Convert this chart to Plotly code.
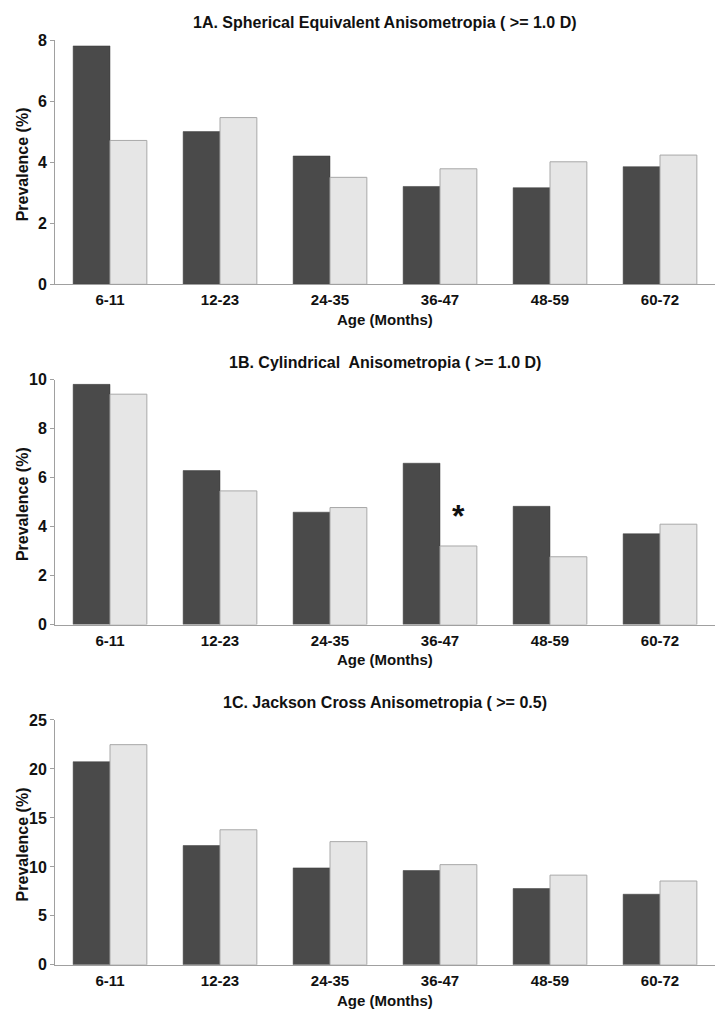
import plotly.graph_objects as go

ages = ["6-11", "12-23", "24-35", "36-47", "48-59", "60-72"]
titles = ["1A. Spherical Equivalent Anisometropia ( >= 1.0 D)",
          "1B. Cylindrical  Anisometropia ( >= 1.0 D)",
          "1C. Jackson Cross Anisometropia ( >= 0.5)"]
sph_dark = [7.82, 5.01, 4.21, 3.21, 3.17, 3.86]
sph_light = [4.72, 5.47, 3.51, 3.79, 4.02, 4.24]
cyl_dark = [9.81, 6.29, 4.59, 6.59, 4.83, 3.71]
cyl_light = [9.41, 5.46, 4.78, 3.21, 2.77, 4.10]
jc_dark = [20.74, 12.18, 9.90, 9.63, 7.79, 7.21]
jc_light = [22.48, 13.79, 12.58, 10.23, 9.16, 8.56]
y_max = [8, 10, 25]
y_dtick = [2, 2, 5]

W, H = 721, 1024
x_left, x_right = 55, 715
panels_px = [(33, 281), (378, 627), (724, 973)]  # top, bottom in px

DARK = "#4a4a4a"
LIGHT = "#e6e6e6"
AX = "#a0a0a0"
SANS = "Liberation Sans, Arial, sans-serif"

fig = go.Figure()
data = [(sph_dark, sph_light), (cyl_dark, cyl_light), (jc_dark, jc_light)]
annotations = []
layout_axes = {}
for i, ((dk, lt), (top, bot)) in enumerate(zip(data, panels_px)):
    n = i + 1
    xa = "x" if n == 1 else f"x{n}"
    ya = "y" if n == 1 else f"y{n}"
    fig.add_trace(go.Bar(x=ages, y=dk, xaxis=xa, yaxis=ya,
                         marker=dict(color=DARK, line=dict(color="#3a3a3a", width=0.5)), showlegend=False))
    fig.add_trace(go.Bar(x=ages, y=lt, xaxis=xa, yaxis=ya,
                         marker=dict(color=LIGHT, line=dict(color="#a8a8a8", width=1)), showlegend=False))
    dom_y = [1 - bot / H, 1 - top / H]
    xkey = "xaxis" if n == 1 else f"xaxis{n}"
    ykey = "yaxis" if n == 1 else f"yaxis{n}"
    layout_axes[xkey] = dict(domain=[x_left / W, x_right / W], anchor=ya, range=[-0.5, 5.5],
                             showline=True, linecolor=AX, linewidth=1, ticks="", showgrid=False,
                             tickfont=dict(family=SANS, size=15, color="#111", weight="bold"),
                             ticklabelstandoff=2, fixedrange=True)
    layout_axes[ykey] = dict(domain=dom_y, anchor=xa, range=[0, y_max[i]], dtick=y_dtick[i],
                             showline=True, linecolor=AX, linewidth=1, ticks="outside", ticklen=4,
                             tickcolor=AX, showgrid=False, zeroline=False,
                             tickfont=dict(family=SANS, size=16, color="#111", weight="bold"))
    annotations.append(dict(text="<b>" + titles[i] + "</b>", x=(x_left + x_right) / 2 / W,
                            y=1 - (top - 18) / H,
                            xref="paper", yref="paper", showarrow=False, xanchor="center",
                            font=dict(family=SANS, size=16, color="#111"), yanchor="middle"))
    annotations.append(dict(text="<b>Prevalence (%)</b>", x=22 / W, y=1 - ((top + bot) / 2 + 2) / H,
                            xref="paper", yref="paper", showarrow=False, textangle=-90,
                            xanchor="center", yanchor="middle",
                            font=dict(family=SANS, size=16, color="#111")))
    annotations.append(dict(text="<b>Age (Months)</b>", x=(x_left + x_right) / 2 / W, y=1 - (bot + 36) / H,
                            xref="paper", yref="paper", showarrow=False, xanchor="center",
                            font=dict(family=SANS, size=15, color="#111"), yanchor="middle"))

annotations.append(dict(text="<b>*</b>", x="36-47", y=cyl_light[3], xref="x2", yref="y2",
                        xshift=18, yshift=10, showarrow=False, yanchor="bottom",
                        font=dict(family=SANS, size=32, color="#111")))

fig.update_layout(width=W, height=H, margin=dict(l=0, r=0, t=0, b=0),
                  paper_bgcolor="white", plot_bgcolor="white",
                  barmode="group", bargap=0.33, bargroupgap=0,
                  annotations=annotations, **layout_axes)
fig.write_html("out.html", config={"displayModeBar": False},
               post_script="document.body.style.margin='0';")
